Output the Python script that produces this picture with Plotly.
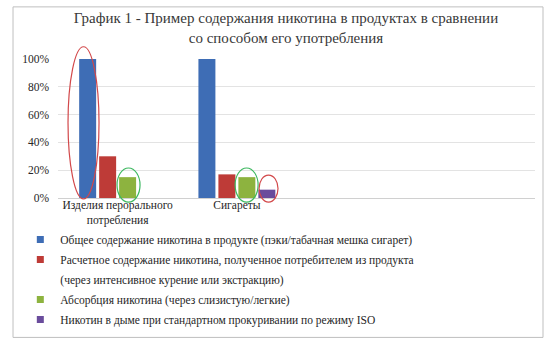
import plotly.graph_objects as go

# Categories and series values (share of total nicotine content)
categories = ["Изделия перорального<br>потребления", "Сигареты"]
series_names = [
    "Общее содержание никотина в продукте (пэки/табачная мешка сигарет)",
    "Расчетное содержание никотина, полученное потребителем из продукта",
    "Абсорбция никотина (через слизистую/легкие)",
    "Никотин в дыме при стандартном прокуривании по режиму ISO",
]
# second line of the red series' legend text
red_name_cont = "(через интенсивное курение или экстракцию)"
total_content = [1.00, 1.00]
extracted = [0.30, 0.17]
absorbed = [0.15, 0.15]
iso_smoke = [None, 0.06]
y_ticks = [0, 0.2, 0.4, 0.6, 0.8, 1.0]
y_tick_text = ["0%", "20%", "40%", "60%", "80%", "100%"]

colors = ["#3E6DB5", "#BE3B37", "#8DB33F", "#6A4C9C"]
series = [total_content, extracted, absorbed, iso_smoke]
positions = list(range(len(categories)))

FONT = "Liberation Serif"

fig = go.Figure()
for name, vals, col in zip(series_names, series, colors):
    fig.add_trace(go.Bar(x=positions, y=vals, name=name, marker_color=col,
                         marker_line_width=0, showlegend=False))

# compact square legend keys, one row per text line
legend_rows = [(series_names[0], colors[0]), (series_names[1], colors[1]),
               (red_name_cont, "rgba(0,0,0,0)"),
               (series_names[2], colors[2]), (series_names[3], colors[3])]
for name, col in legend_rows:
    fig.add_trace(go.Scatter(x=[None], y=[None], mode="markers", name=name,
                             legendgroup=name,
                             marker=dict(symbol="square", size=7, color=col)))

# highlight ellipses (x offsets relative to category centre, y in plot fraction)
ellipses = [
    (0, -0.416, -0.156, -0.007, 1.088, "#D2484A"),
    (0, -0.005, 0.188, -0.029, 0.216, "#3DB860"),
    (1, -0.015, 0.178, -0.029, 0.216, "#3DB860"),
    (1, 0.186, 0.345, -0.029, 0.165, "#D2484A"),
]
for cat, dx0, dx1, py0, py1, col in ellipses:
    fig.add_shape(type="circle", xref="x", yref="paper",
                  x0=positions[cat] + dx0, x1=positions[cat] + dx1,
                  y0=py0, y1=py1, line=dict(color=col, width=1.2), layer="above")

# outer chart frame
fig.add_shape(type="rect", xref="paper", yref="paper",
              x0=-0.0943, x1=1.0168, y0=-1.003, y1=1.375,
              line=dict(color="#BFBFBF", width=1))

fig.update_layout(
    width=560, height=347,
    margin=dict(l=58, r=25, t=59, b=149),
    paper_bgcolor="white", plot_bgcolor="white",
    barmode="group", bargap=0.33, bargroupgap=0.15,
    title=dict(text="График 1 - Пример содержания никотина в продуктах в сравнении<br>со способом его употребления",
               x=0.478, xref="paper", xanchor="center", y=0.933, yanchor="top",
               font=dict(family=FONT, size=15, color="#383838")),
    font=dict(family=FONT, size=11.5, color="#262626"),
    xaxis=dict(range=[-0.5, 3.5], tickmode="array", tickvals=positions, ticktext=categories,
               showgrid=False, zeroline=False, showline=True, linecolor="#D0D0D0",
               ticks="", ticklabelstandoff=-4,
               tickfont=dict(family=FONT, size=11.5, color="#262626")),
    yaxis=dict(range=[0, 1.0], tickvals=y_ticks, ticktext=y_tick_text,
               showgrid=True, gridcolor="#E3E3E3", zeroline=False, showline=False,
               ticks="", ticklabelstandoff=8,
               tickfont=dict(family=FONT, size=11.5, color="#262626")),
    legend=dict(x=-0.079, y=-0.195, xanchor="left", yanchor="top", valign="middle",
                bgcolor="rgba(0,0,0,0)", tracegroupgap=1,
                font=dict(family=FONT, size=11.5, color="#262626")),
    showlegend=True,
)

fig.write_html("out.html")
